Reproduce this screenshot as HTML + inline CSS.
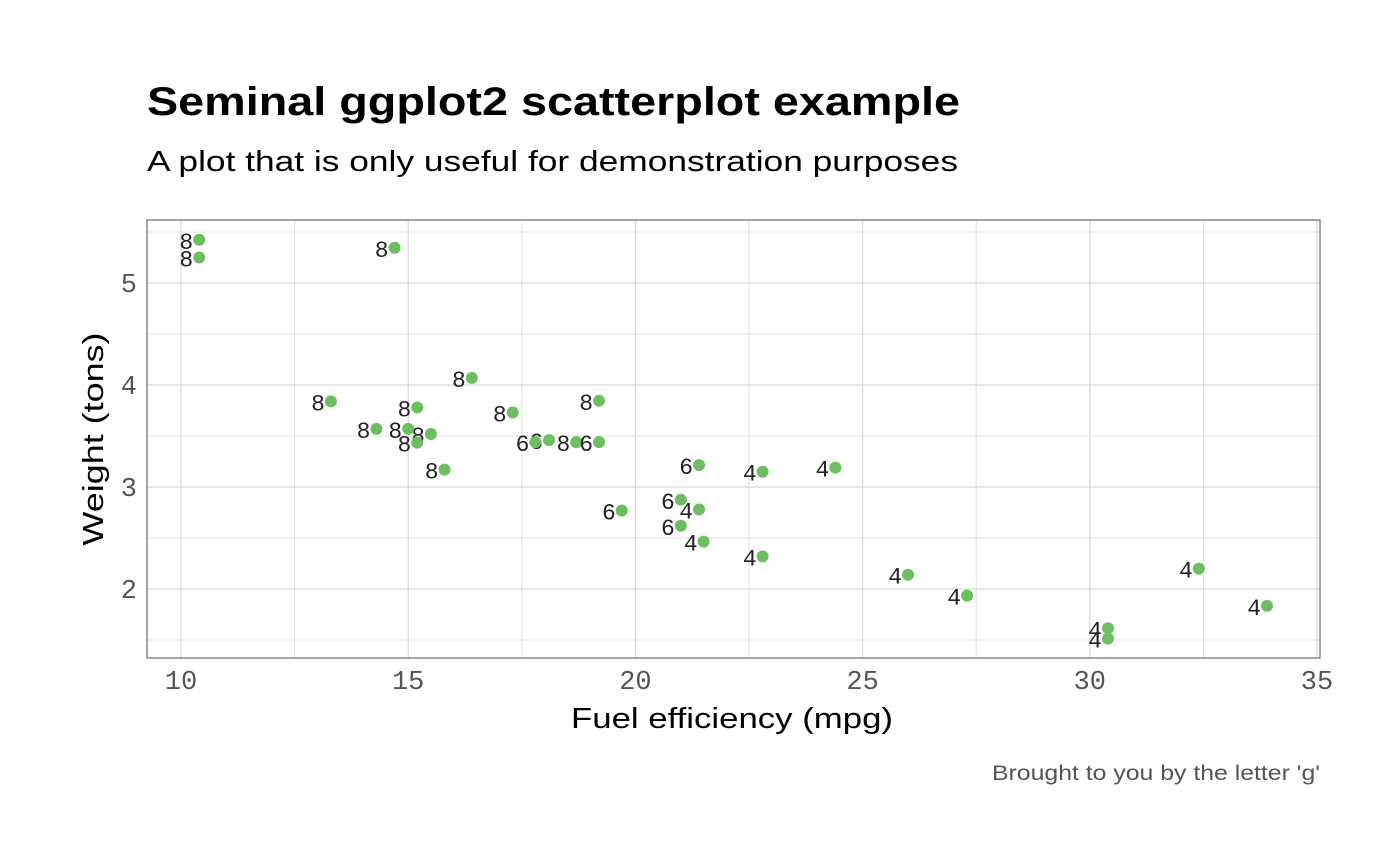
<!DOCTYPE html>
<html><head><meta charset="utf-8"><style>
body{margin:0;background:#fff;}
svg{display:block;font-family:"Liberation Sans",sans-serif;}
</style></head><body>
<svg id="chart" width="1400" height="866">
<text x="147" y="115" font-size="40" font-weight="bold" fill="#000" textLength="813" lengthAdjust="spacingAndGlyphs">Seminal ggplot2 scatterplot example</text>
<text x="147" y="171" font-size="29" fill="#000" textLength="811" lengthAdjust="spacingAndGlyphs">A plot that is only useful for demonstration purposes</text>
<g id="grid"></g>
<rect x="147" y="220" width="1173" height="438" fill="none" stroke="#777" stroke-width="1.3"/>
<g id="marks"></g>
<g id="ticks"></g>
<text x="732" y="728" font-size="29" text-anchor="middle" fill="#000" textLength="322" lengthAdjust="spacingAndGlyphs">Fuel efficiency (mpg)</text>
<text transform="translate(103,439) rotate(-90)" font-size="29" text-anchor="middle" fill="#000" textLength="213" lengthAdjust="spacingAndGlyphs">Weight (tons)</text>
<text x="1320" y="780" font-size="21" text-anchor="end" fill="#555" textLength="328" lengthAdjust="spacingAndGlyphs">Brought to you by the letter 'g'</text>
</svg>
<script>
const mpg=[21.0,21.0,22.8,21.4,18.7,18.1,14.3,24.4,22.8,19.2,17.8,16.4,17.3,15.2,10.4,10.4,14.7,32.4,30.4,33.9,21.5,15.5,15.2,13.3,19.2,27.3,26.0,30.4,15.8,19.7,15.0,21.4];
const wt=[2.620,2.875,2.320,3.215,3.440,3.460,3.570,3.190,3.150,3.440,3.440,4.070,3.730,3.780,5.250,5.424,5.345,2.200,1.615,1.835,2.465,3.520,3.435,3.840,3.845,1.935,2.140,1.513,3.170,2.770,3.570,2.780];
const cyl=[6,6,4,6,8,6,8,4,4,6,6,8,8,8,8,8,8,4,4,4,4,8,8,8,8,4,4,4,8,6,8,4];
const xTicks=[10,15,20,25,30,35];
const yTicks=[2,3,4,5];
const NS="http://www.w3.org/2000/svg";
const X=v=>181+(v-10)*45.44;
const Y=v=>283+(5-v)*102;
function mk(t,a,p){const e=document.createElementNS(NS,t);for(const k in a)e.setAttribute(k,a[k]);p.appendChild(e);return e;}
const grid=document.getElementById('grid'),ticks=document.getElementById('ticks'),marks=document.getElementById('marks');
for(let v=10;v<=35;v+=2.5){const l=mk('line',{x1:X(v),x2:X(v),y1:220,y2:658,stroke:v%5?'#e0e0e0':'#cfcfcf','stroke-width':1},grid);

}
for(let v=1.5;v<=5.5;v+=0.5){const l=mk('line',{x1:147,x2:1320,y1:Y(v),y2:Y(v),stroke:v%1?'#e0e0e0':'#cfcfcf','stroke-width':1},grid);

}
xTicks.forEach(v=>{const t=mk('text',{x:X(v),y:689,'font-size':27,'text-anchor':'middle',fill:'#555','font-family':'Liberation Mono, monospace'},ticks);t.textContent=v;

});
yTicks.forEach(v=>{const t=mk('text',{x:137,y:Y(v)+9,'font-size':27,'text-anchor':'end',fill:'#555','font-family':'Liberation Mono, monospace'},ticks);t.textContent=v;

});
mpg.forEach((m,i)=>{
const c=mk('circle',{cx:X(m),cy:Y(wt[i]),r:6,fill:'#6cbf5f'},marks);


const t=mk('text',{x:X(m)-6,y:Y(wt[i])+9,'font-size':23,'text-anchor':'end',fill:'#222','font-family':'Liberation Mono, monospace'},marks);t.textContent=cyl[i];


});
</script>
</body></html>
